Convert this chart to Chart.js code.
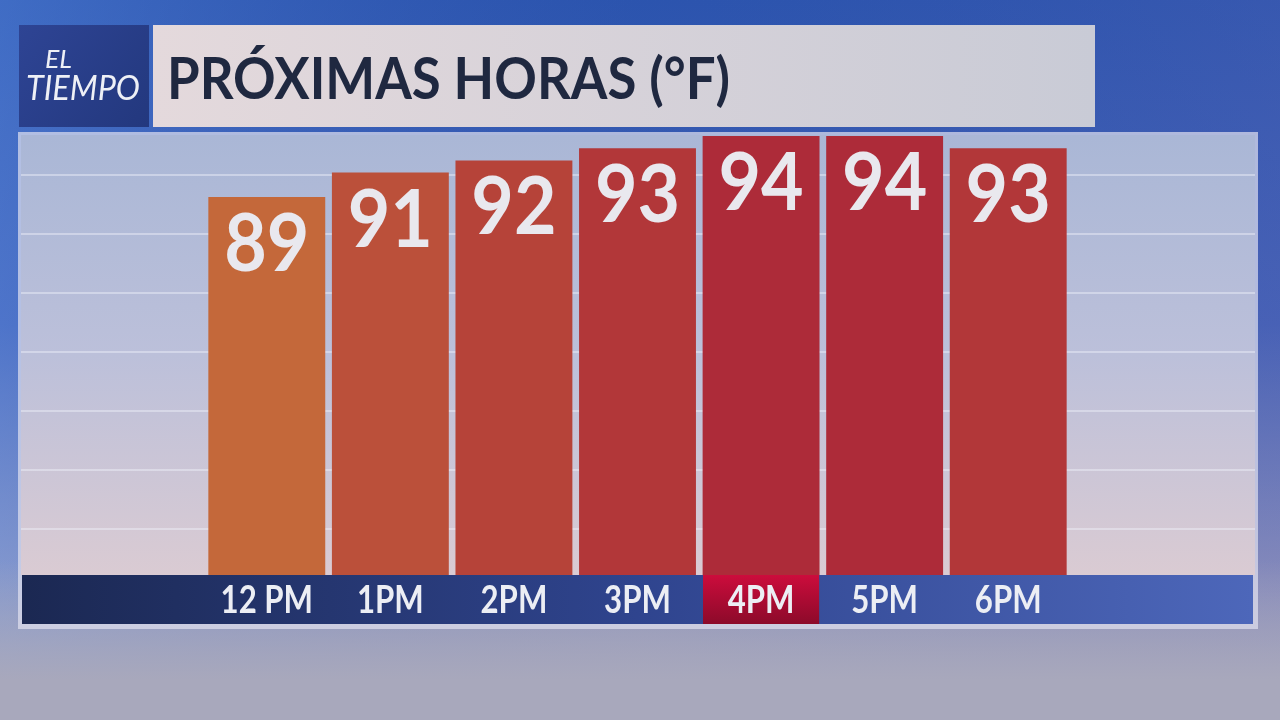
<!DOCTYPE html>
<html>
<head>
<meta charset="utf-8">
<script src="https://cdn.jsdelivr.net/npm/chart.js@4/dist/chart.umd.min.js"></script>
<style>
  html, body { margin: 0; padding: 0; background: #2f58b0; }
  canvas { display: block; }
</style>
</head>
<body>
<canvas id="tempChart" width="1280" height="720"></canvas>
<script>
// datos
const hours = ['12 PM', '1PM', '2PM', '3PM', '4PM', '5PM', '6PM'];
const temps = [89, 91, 92, 93, 94, 94, 93];
const currentHour = '4PM';
const titleText = 'PRÓXIMAS HORAS (°F)';
const logoLines = ['EL', 'TIEMPO'];
const yMin = 58;
const yMax = 94;

// color de barra según temperatura (naranja -> rojo)
function barColor(v) {
    const t = Math.max(0, Math.min(1, (v - 89) / 5));
    const a = [196, 104, 58], b = [173, 43, 57];
    const c = a.map((x, i) => Math.round(x + (b[i] - x) * t));
    return `rgb(${c[0]}, ${c[1]}, ${c[2]})`;
}

function fitText(ctx, text, x, y, width, sy) {
    const w = ctx.measureText(text).width;
    ctx.save();
    ctx.translate(x, y);
    ctx.scale(width / w, sy);
    ctx.fillText(text, 0, 0);
    ctx.restore();
}

const backdrop = {
    id: 'backdrop',
    beforeDraw(chart) {
        const ctx = chart.ctx;
        const W = chart.width, H = chart.height;
        const area = chart.chartArea;
        ctx.save();

        // fondo
        let g = ctx.createLinearGradient(0, 0, 0, H);
        g.addColorStop(0, '#2c56b0');
        g.addColorStop(0.45, '#4262b8');
        g.addColorStop(0.8, '#9297bf');
        g.addColorStop(1, '#b1afc4');
        ctx.fillStyle = g;
        ctx.fillRect(0, 0, W, H);
        g = ctx.createLinearGradient(0, 0, W, 0);
        g.addColorStop(0, 'rgba(100,150,235,0.35)');
        g.addColorStop(0.5, 'rgba(40,70,160,0.12)');
        g.addColorStop(1, 'rgba(90,95,175,0.25)');
        ctx.fillStyle = g;
        ctx.fillRect(0, 0, W, H);
        g = ctx.createLinearGradient(0, 560, 0, 680);
        g.addColorStop(0, 'rgba(166,166,186,0)');
        g.addColorStop(1, 'rgba(168,168,188,1)');
        ctx.fillStyle = g;
        ctx.fillRect(0, 560, W, H - 560);

        // logo
        g = ctx.createLinearGradient(19, 25, 148, 127);
        g.addColorStop(0, '#2e4494');
        g.addColorStop(1, '#23387e');
        ctx.fillStyle = g;
        ctx.fillRect(19, 25, 130, 102);
        ctx.fillStyle = '#eef0f6';
        ctx.textBaseline = 'alphabetic';
        ctx.font = 'italic 400 26px "Lato"';
        fitText(ctx, logoLines[0], 45, 68, 27, 1);
        ctx.font = 'italic 400 34px "Lato"';
        fitText(ctx, logoLines[1], 26, 100, 114, 1.02);

        // caja de título
        g = ctx.createLinearGradient(153, 0, 1095, 0);
        g.addColorStop(0, '#e4d9dc');
        g.addColorStop(1, '#c9cbd6');
        ctx.fillStyle = g;
        ctx.fillRect(153, 25, 942, 102);
        ctx.fillStyle = '#1f2840';
        ctx.font = '700 58px "Lato"';
        fitText(ctx, titleText, 167, 99, 563, 1);

        // panel
        ctx.fillStyle = 'rgba(225,225,240,0.7)';
        ctx.fillRect(18, 132, 1240, 497);
        g = ctx.createLinearGradient(0, 136, 0, 575);
        g.addColorStop(0, '#aab7d6');
        g.addColorStop(0.5, '#bcc0da');
        g.addColorStop(1, '#dacbd3');
        ctx.fillStyle = g;
        ctx.fillRect(21, 135, 1234, 440);

        // líneas de fondo
        ctx.strokeStyle = 'rgba(240,242,250,0.45)';
        ctx.lineWidth = 2;
        for (let i = 1; i <= 7; i++) {
            const y = Math.round(area.top + i * 59 - 20);
            ctx.beginPath();
            ctx.moveTo(21, y);
            ctx.lineTo(1255, y);
            ctx.stroke();
        }

        // barra inferior de horas
        g = ctx.createLinearGradient(22, 0, 1253, 0);
        g.addColorStop(0, '#1b2852');
        g.addColorStop(0.5, '#2f448e');
        g.addColorStop(1, '#4d67ba');
        ctx.fillStyle = g;
        ctx.fillRect(22, area.bottom, 1231, 49);

        // hora actual resaltada
        const xs = chart.scales.x;
        const idx = hours.indexOf(currentHour);
        const step = xs.getPixelForValue(1) - xs.getPixelForValue(0);
        const cx = xs.getPixelForValue(idx);
        g = ctx.createLinearGradient(0, area.bottom, 0, area.bottom + 49);
        g.addColorStop(0, '#cc0c3c');
        g.addColorStop(1, '#8c0a2a');
        ctx.fillStyle = g;
        ctx.fillRect(cx - step * 0.47, area.bottom, step * 0.94, 49);

        ctx.restore();
    },
    afterDatasetsDraw(chart) {
        const ctx = chart.ctx;
        const meta = chart.getDatasetMeta(0);
        ctx.save();
        ctx.fillStyle = '#e9e8ee';
        ctx.font = '700 72px "Lato"';
        ctx.textAlign = 'center';
        ctx.textBaseline = 'alphabetic';
        meta.data.forEach((bar, i) => {
            ctx.save();
            ctx.translate(bar.x, bar.y + 74);
            ctx.scale(1.02, 1.12);
            ctx.fillText(String(temps[i]), 0, 0);
            ctx.restore();
        });

        // etiquetas de hora (desde la escala x)
        const xs = chart.scales.x;
        ctx.fillStyle = '#eceef4';
        ctx.font = '700 38px "Lato"';
        xs.ticks.forEach((t, i) => {
            ctx.save();
            ctx.translate(xs.getPixelForTick(i), chart.chartArea.bottom + 38);
            ctx.scale(0.82, 1);
            ctx.fillText(xs.getLabelForValue(t.value), 0, 0);
            ctx.restore();
        });
        ctx.restore();
    }
};

const ctx = document.getElementById('tempChart').getContext('2d');
new Chart(ctx, {
    type: 'bar',
    data: {
        labels: hours,
        datasets: [{
            label: 'Temperatura (°F)',
            data: temps,
            backgroundColor: c => barColor(c.raw),
            borderWidth: 0,
            barPercentage: 0.946,
            categoryPercentage: 1
        }]
    },
    options: {
        responsive: false,
        animation: false,
        layout: {
            padding: { left: 205, right: 210, top: 136, bottom: 95 }
        },
        plugins: {
            legend: { display: false },
            tooltip: { enabled: false }
        },
        scales: {
            x: {
                grid: { display: false, drawTicks: false },
                border: { display: false },
                ticks: { display: false },
                afterFit: s => { s.height = 50; }
            },
            y: {
                display: false,
                min: yMin,
                max: yMax
            }
        }
    },
    plugins: [backdrop]
});
</script>
</body>
</html>
